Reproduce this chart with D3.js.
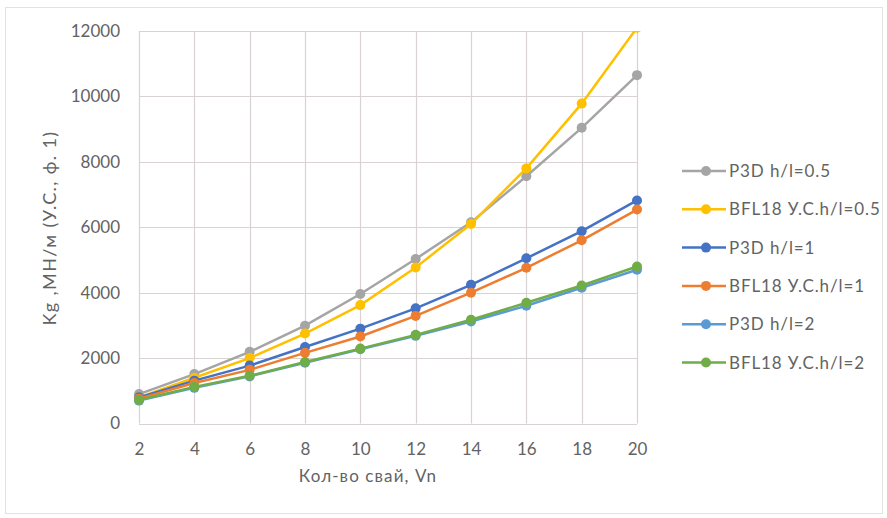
<!DOCTYPE html>
<html>
<head>
<meta charset="utf-8">
<script src="https://cdn.jsdelivr.net/npm/d3@7"></script>
<style>
  body { margin: 0; background: #fff; }
  text { font-family: Lato, "Open Sans", sans-serif; fill: #636363; }
</style>
</head>
<body>
<svg id="chart" width="887" height="518"></svg>
<script>
// values
var piles = [2, 4, 6, 8, 10, 12, 14, 16, 18, 20];
var yTicks = [0, 2000, 4000, 6000, 8000, 10000, 12000];

var p3d05 = [900, 1510, 2190, 2990, 3960, 5030, 6150, 7560, 9040, 10650];
var bfl05 = [800, 1400, 2000, 2750, 3620, 4770, 6100, 7800, 9780, 12100];
var p3d1 = [800, 1310, 1770, 2340, 2900, 3520, 4240, 5050, 5880, 6820];
var bfl1 = [760, 1240, 1640, 2160, 2660, 3290, 4000, 4760, 5600, 6540];
var p3d2 = [700, 1090, 1440, 1860, 2270, 2680, 3120, 3600, 4150, 4700];
var bfl2 = [720, 1120, 1460, 1880, 2290, 2710, 3170, 3690, 4220, 4800];

var seriesNames = ['P3D h/l=0.5', 'BFL18 У.С.h/l=0.5', 'P3D h/l=1', 'BFL18 У.С.h/l=1', 'P3D h/l=2', 'BFL18 У.С.h/l=2'];
var seriesValues = [p3d05, bfl05, p3d1, bfl1, p3d2, bfl2];
var seriesColors = ['#A5A5A5', '#FFC000', '#4472C4', '#ED7D31', '#5B9BD5', '#70AD47'];

var svg = d3.select('#chart');

// outer chart frame
svg.append('rect')
    .attr('x', 5.5).attr('y', 7.5)
    .attr('width', 877).attr('height', 506)
    .style('fill', 'none').style('stroke', '#e2e2e2');

var plotL = 139, plotR = 637, plotT = 31, plotB = 423.5;

var x = d3.scaleLinear().domain([2, 20]).range([plotL, plotR]);
var y = d3.scaleLinear().domain([0, 12000]).range([plotB, plotT]);

// grid
svg.append('g').selectAll('line')
    .data(yTicks).enter()
    .append('line')
    .attr('x1', plotL).attr('x2', plotR)
    .attr('y1', function(d){ return Math.round(y(d)) + 0.5; })
    .attr('y2', function(d){ return Math.round(y(d)) + 0.5; })
    .style('stroke', '#d9d2d2').style('stroke-width', 1.2);

svg.append('g').selectAll('line')
    .data(piles).enter()
    .append('line')
    .attr('y1', plotT).attr('y2', plotB)
    .attr('x1', function(d){ return Math.round(x(d)) + 0.5; })
    .attr('x2', function(d){ return Math.round(x(d)) + 0.5; })
    .style('stroke', '#d9d2d2').style('stroke-width', 1.2);

// axes (labels only)
var yAxis = d3.axisLeft(y).tickValues(yTicks).tickFormat(d3.format('d')).tickSize(0).tickPadding(19);
var gy = svg.append('g').attr('transform', 'translate(' + plotL + ',0)').call(yAxis);
gy.select('.domain').remove();
gy.selectAll('text').style('font-size', '17px').style('fill', '#636363').style('font-family', 'Lato, sans-serif');

var xAxis = d3.axisBottom(x).tickValues(piles).tickSize(0).tickPadding(19);
var gx = svg.append('g').attr('transform', 'translate(0,' + plotB + ')').call(xAxis);
gx.select('.domain').remove();
gx.selectAll('text').style('font-size', '17px').style('fill', '#636363').style('font-family', 'Lato, sans-serif');

// axis titles
svg.append('text')
    .attr('transform', 'translate(56,228) rotate(-90)')
    .attr('text-anchor', 'middle')
    .style('font-size', '18px')
    .style('letter-spacing', '1.4px')
    .text('Kg ,МН/м (У.С., ф. 1)');

svg.append('text')
    .attr('x', 368).attr('y', 482)
    .attr('text-anchor', 'middle')
    .style('font-size', '17px')
    .style('letter-spacing', '1.1px')
    .text('Кол-во свай, Vn');

// series
svg.append('clipPath').attr('id', 'plotClip')
    .append('rect')
    .attr('x', plotL - 10).attr('y', plotT)
    .attr('width', plotR - plotL + 20).attr('height', plotB - plotT + 10);

var plot = svg.append('g').attr('clip-path', 'url(#plotClip)');
var line = d3.line()
    .x(function(d, i){ return x(piles[i]); })
    .y(function(d){ return y(d); });

seriesValues.forEach(function(vals, s){
    plot.append('path')
        .datum(vals)
        .attr('d', line)
        .style('fill', 'none')
        .style('stroke', seriesColors[s])
        .style('stroke-width', 2.5);
    plot.selectAll('circle.s' + s)
        .data(vals).enter()
        .append('circle')
        .attr('class', 's' + s)
        .attr('cx', function(d, i){ return x(piles[i]); })
        .attr('cy', function(d){ return y(d); })
        .attr('r', 5)
        .style('fill', seriesColors[s]);
});

// legend
var legend = svg.append('g');
seriesNames.forEach(function(name, s){
    var ly = 171 + s * 38.3;
    legend.append('line')
        .attr('x1', 682).attr('x2', 726)
        .attr('y1', ly).attr('y2', ly)
        .style('stroke', seriesColors[s]).style('stroke-width', 2.5);
    legend.append('circle')
        .attr('cx', 706).attr('cy', ly).attr('r', 5)
        .style('fill', seriesColors[s]);
    legend.append('text')
        .attr('x', 729).attr('y', ly + 6)
        .style('font-size', '17px')
        .style('letter-spacing', '0.9px')
        .text(name);
});
</script>
</body>
</html>
